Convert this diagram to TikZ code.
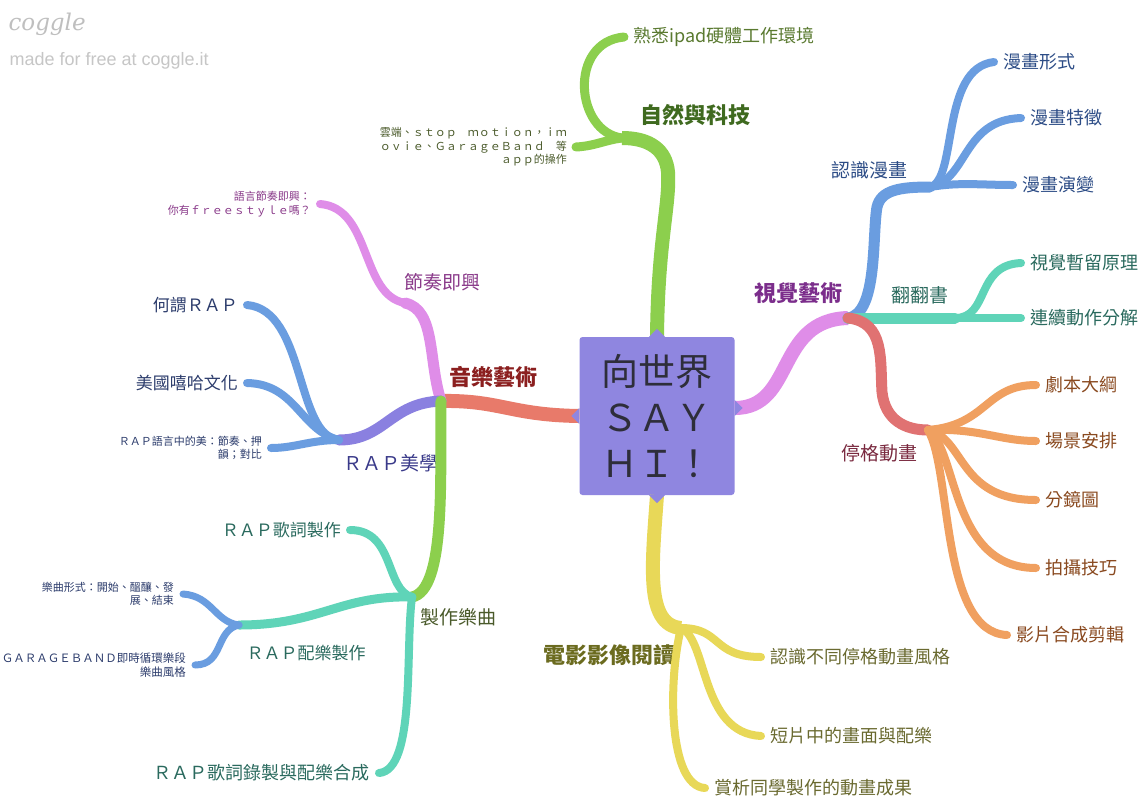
\documentclass[tikz,border=0pt]{standalone}
\usepackage{fontspec}
\setmainfont{Noto Sans CJK TC}
\newfontfamily\lat{Liberation Sans}
\newfontfamily\logofont{DejaVu Serif}
\usetikzlibrary{calc}
\definecolor{boxc}{HTML}{8F86E0}
\definecolor{txtdark}{HTML}{2E2E3A}
\definecolor{cGreen}{HTML}{8CCF4D}
\definecolor{cPinkV}{HTML}{DF8DE8}
\definecolor{cBlue}{HTML}{6A9DE0}
\definecolor{cTeal}{HTML}{5FD4B8}
\definecolor{cSalmon}{HTML}{E07272}
\definecolor{cOrange}{HTML}{F0A060}
\definecolor{cCoral}{HTML}{E87A6A}
\definecolor{cViolet}{HTML}{8A80E0}
\definecolor{cYellow}{HTML}{E8D858}
\definecolor{tGreen}{HTML}{5A7A30}
\definecolor{tGreenB}{HTML}{3F6A1F}
\definecolor{tOlive}{HTML}{4A5A2A}
\definecolor{tPurpleB}{HTML}{7B2D8B}
\definecolor{tPurple}{HTML}{8A3A8A}
\definecolor{tBlue}{HTML}{2C4C86}
\definecolor{tNavy}{HTML}{2C3C6C}
\definecolor{tTeal}{HTML}{2A6A5E}
\definecolor{tRed}{HTML}{7A2A40}
\definecolor{tRedB}{HTML}{8B1F1F}
\definecolor{tBrown}{HTML}{8A4A20}
\definecolor{tYellowB}{HTML}{6B6B1F}
\definecolor{tYellow}{HTML}{6A6A30}
\definecolor{tViolet}{HTML}{3A3A8A}
\begin{document}
\begin{tikzpicture}[x=1pt,y=-1pt,
  br/.style={line width=#1, line cap=round},
  trunk/.style={line width=#1, line cap=butt},
  leaf/.style={font=\fontsize{18}{22}\selectfont, inner xsep=9pt, inner ysep=2pt},
  small/.style={font=\fontsize{11}{13.5}\selectfont, align=right, inner xsep=9pt, inner ysep=2pt},
  mainlab/.style={font=\bfseries\fontsize{22}{26}\selectfont},
  sublab/.style={font=\fontsize{19}{23}\selectfont},
  ctrbox/.style={fill=boxc, minimum width=155pt, minimum height=158pt, rounded corners=3pt,
    align=center, text=txtdark, font=\fontsize{37}{46}\selectfont, inner sep=0pt}
]
\useasboundingbox (0,0) rectangle (1145,801);
\fill[white] (0,0) rectangle (1145,801);

% logo
\node[anchor=west, text=gray!50, font=\logofont\itshape\fontsize{23}{25}\selectfont] (logo) at (5,24) {coggle};
\node[anchor=west, text=gray!45, font=\lat\fontsize{18}{20}\selectfont] (made) at (6,61) {made for free at coggle.it};

% center
\node[ctrbox] (ctr) at (657,416) {向世界\\ＳＡＹ\\ＨＩ！};

% hubs
\coordinate (hNat) at (622,138);
\coordinate (hVis) at (848,318);
\coordinate (hMan) at (930,187);
\coordinate (hFlip) at (955,318);
\coordinate (hStop) at (928,430);
\coordinate (hMus) at (441,401);
\coordinate (hRhy) at (405,303);
\coordinate (hAes) at (339,440);
\coordinate (hMake) at (412,597);
\coordinate (hPei) at (239,625);
\coordinate (hFilm) at (681,628);

% ---------- labels / leaves ----------
% nature & tech
\node[mainlab, text=tGreenB] (nat) at (695,115) {自然與科技};
\node[leaf, anchor=west, text=tGreen] (ipad) at (624,37) {熟悉ipad硬體工作環境};
\node[small, anchor=east, text=tOlive] (cloud) at (576,147) {雲端、ｓｔｏｐ　ｍｏｔｉｏｎ，ｉｍ\\ｏｖｉｅ、ＧａｒａｇｅＢａｎｄ　等\\ａｐｐ的操作};

% visual arts
\node[mainlab, text=tPurpleB] (vis) at (798,293) {視覺藝術};
\node[sublab, text=tBlue] (man) at (869,170) {認識漫畫};
\node[leaf, anchor=west, text=tBlue] (m1) at (994,62) {漫畫形式};
\node[leaf, anchor=west, text=tBlue] (m2) at (1021,118) {漫畫特徵};
\node[leaf, anchor=west, text=tBlue] (m3) at (1013,185) {漫畫演變};
\node[sublab, text=tTeal] (flip) at (920,295) {翻翻書};
\node[leaf, anchor=west, text=tTeal] (f1) at (1021,263) {視覺暫留原理};
\node[leaf, anchor=west, text=tTeal] (f2) at (1021,318) {連續動作分解};
\node[sublab, text=tRed] (stop) at (879,453) {停格動畫};
\node[leaf, anchor=west, text=tBrown] (s1) at (1036,385) {劇本大綱};
\node[leaf, anchor=west, text=tBrown] (s2) at (1036,441) {場景安排};
\node[leaf, anchor=west, text=tBrown] (s3) at (1036,500) {分鏡圖};
\node[leaf, anchor=west, text=tBrown] (s4) at (1036,568) {拍攝技巧};
\node[leaf, anchor=west, text=tBrown] (s5) at (1007,635) {影片合成剪輯};

% film
\node[mainlab, text=tYellowB] (film) at (609,655) {電影影像閱讀};
\node[leaf, anchor=west, text=tYellow] (y1) at (761,657) {認識不同停格動畫風格};
\node[leaf, anchor=west, text=tYellow] (y2) at (761,736) {短片中的畫面與配樂};
\node[leaf, anchor=west, text=tYellow] (y3) at (705,788) {賞析同學製作的動畫成果};

% music
\node[mainlab, text=tRedB] (mus) at (493,377) {音樂藝術};
\node[sublab, text=tPurple] (rhy) at (442,282) {節奏即興};
\node[small, anchor=east, text=tPurple] (free) at (320,204) {語言節奏即興：\\你有ｆｒｅｅｓｔｙｌｅ嗎？};
\node[sublab, text=tViolet] (aes) at (391,463) {ＲＡＰ美學};
\node[leaf, anchor=east, text=tNavy, font=\fontsize{17}{21}\selectfont] (a1) at (247,305) {何謂ＲＡＰ};
\node[leaf, anchor=east, text=tNavy, font=\fontsize{17}{21}\selectfont] (a2) at (247,383) {美國嘻哈文化};
\node[small, anchor=east, text=tNavy] (a3) at (271,448) {ＲＡＰ語言中的美：節奏、押\\韻；對比};
\node[sublab, text=tOlive] (make) at (458,617) {製作樂曲};
\node[leaf, anchor=east, text=tTeal, font=\fontsize{17}{21}\selectfont] (k1) at (350,530) {ＲＡＰ歌詞製作};
\node[sublab, text=tTeal, font=\fontsize{17}{21}\selectfont] (pei) at (306,653) {ＲＡＰ配樂製作};
\node[small, anchor=east, text=tNavy] (p1) at (183,594) {樂曲形式：開始、醞釀、發\\展、結束};
\node[small, anchor=east, text=tNavy, font=\fontsize{11.5}{14}\selectfont] (p2) at (195,665) {ＧＡＲＡＧＥＢＡＮＤ即時循環樂段\\樂曲風格};
\node[leaf, anchor=east, text=tTeal] (k3) at (379,773) {ＲＡＰ歌詞錄製與配樂合成};

% ---------- branches ----------
% green (nature)
\draw[trunk=14, cGreen] (ctr.north) .. controls (658,240) and (670,205) .. (668,172)
   .. controls (666,150) and (650,138) .. (hNat);
\draw[br=9, cGreen] (hNat) .. controls (575,132) and (568,42) .. (ipad.west);
\draw[br=9, cGreen] (hNat) .. controls (605,140) and (595,146) .. (cloud.east);

% visual arts
\draw[trunk=14, cPinkV] ($(ctr.east)+(0,-8)$) .. controls (795,408) and (775,320) .. (hVis);
\draw[br=11, cBlue] (hVis) .. controls (878,314) and (872,235) .. (877,207)
   .. controls (881,190) and (900,187) .. (hMan);
\draw[br=8, cBlue] (hMan) .. controls (958,180) and (940,68) .. (m1.west);
\draw[br=8, cBlue] (hMan) .. controls (968,180) and (962,120) .. (m2.west);
\draw[br=8, cBlue] (hMan) .. controls (960,182) and (980,185) .. (m3.west);
\draw[br=11, cTeal] (hVis) -- (hFlip);
\draw[br=8, cTeal] (hFlip) .. controls (990,318) and (975,265) .. (f1.west);
\draw[br=8, cTeal] (hFlip) -- (f2.west);
\draw[br=11, cSalmon] (hVis) .. controls (885,322) and (880,360) .. (882,392)
   .. controls (885,420) and (905,430) .. (hStop);
\draw[br=8, cOrange] (hStop) .. controls (988,425) and (985,385) .. (s1.west);
\draw[br=8, cOrange] (hStop) .. controls (980,428) and (1000,441) .. (s2.west);
\draw[br=8, cOrange] (hStop) .. controls (965,438) and (958,500) .. (s3.west);
\draw[br=8, cOrange] (hStop) .. controls (958,450) and (950,568) .. (s4.west);
\draw[br=8, cOrange] (hStop) .. controls (952,470) and (940,632) .. (s5.west);

% film
\draw[trunk=14, cYellow] (ctr.south) .. controls (652,565) and (645,625) .. (hFilm);
\draw[br=8, cYellow] (hFilm) .. controls (722,628) and (712,657) .. (y1.west);
\draw[br=8, cYellow] (hFilm) .. controls (708,640) and (700,733) .. (y2.west);
\draw[br=8, cYellow] (hFilm) .. controls (668,680) and (668,786) .. (y3.west);

% music
\draw[trunk=14, cCoral] (ctr.west) .. controls (510,415) and (500,400) .. (hMus);
\draw[br=11, cPinkV] (hMus) .. controls (428,360) and (436,310) .. (hRhy);
\draw[br=8, cPinkV] (hRhy) .. controls (360,295) and (372,208) .. (free.east);
\draw[br=11, cViolet] (hMus) .. controls (390,403) and (385,440) .. (hAes);
\draw[br=8, cBlue] (hAes) .. controls (295,436) and (306,310) .. (a1.east);
\draw[br=8, cBlue] (hAes) .. controls (300,430) and (296,384) .. (a2.east);
\draw[br=8, cBlue] (hAes) .. controls (310,440) and (295,448) .. (a3.east);
\draw[br=11, cGreen] (hMus) .. controls (440,480) and (446,590) .. (hMake);
\draw[br=8, cTeal] (hMake) .. controls (385,590) and (395,530) .. (k1.east);
\draw[br=9, cTeal] (hMake) .. controls (340,595) and (320,625) .. (hPei);
\draw[br=8, cTeal] (hMake) .. controls (405,650) and (416,770) .. (k3.east);
\draw[br=7, cBlue] (hPei) .. controls (215,622) and (212,596) .. (p1.east);
\draw[br=7, cBlue] (hPei) .. controls (215,630) and (224,665) .. (p2.east);

% notches of the centre box
\fill[boxc] ($(ctr.north)+(-8,0)$) -- ($(ctr.north)+(0,-8)$) -- ($(ctr.north)+(8,0)$) -- cycle;
\fill[boxc] ($(ctr.south)+(-8,0)$) -- ($(ctr.south)+(0,8)$) -- ($(ctr.south)+(8,0)$) -- cycle;
\fill[boxc] ($(ctr.west)+(0,-8)$) -- ($(ctr.west)+(-8,0)$) -- ($(ctr.west)+(0,8)$) -- cycle;
\fill[boxc] ($(ctr.east)+(0,-16)$) -- ($(ctr.east)+(8,-8)$) -- ($(ctr.east)+(0,0)$) -- cycle;
\end{tikzpicture}
\end{document}
